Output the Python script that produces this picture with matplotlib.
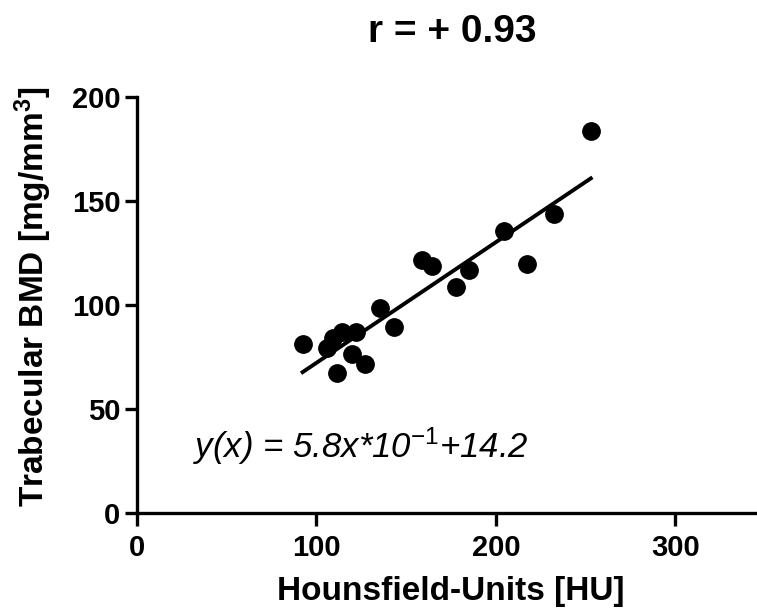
import numpy as np
import matplotlib
matplotlib.use("Agg")
import matplotlib.pyplot as plt

plt.rcParams['font.family'] = ['Liberation Sans', 'DejaVu Sans']
plt.rcParams['mathtext.fontset'] = 'custom'
plt.rcParams['mathtext.rm'] = 'Liberation Sans'
plt.rcParams['mathtext.it'] = 'Liberation Sans:italic'
plt.rcParams['mathtext.bf'] = 'Liberation Sans:bold'

hu = [92.3, 105.7, 109.4, 114.0, 122.0, 119.6, 111.6, 127.0, 135.4, 143.3,
      158.6, 164.5, 177.5, 185.1, 204.6, 217.1, 232.3, 252.9]
bmd = [81.1, 79.5, 84.0, 87.2, 86.9, 76.4, 67.5, 71.6, 98.4, 89.6,
       121.6, 118.8, 108.8, 116.8, 135.7, 119.6, 143.8, 183.8]

slope = 0.58
intercept = 14.2
r_value = 0.93

x_ticks = [0, 100, 200, 300]
y_ticks = [0, 50, 100, 150, 200]

fig = plt.figure(figsize=(7.57, 6.11), dpi=100)
ax = fig.add_axes([0.181, 0.1604, 0.8296, 0.6808])

ax.plot(hu, bmd, 'o', color='black', markersize=12.5, zorder=3)

xfit = np.array([min(hu), max(hu)])
ax.plot(xfit, slope * xfit + intercept, color='black', lw=2.8, zorder=2)

ax.set_xlim(0, 350)
ax.set_ylim(0, 200)
ax.set_xticks(x_ticks)
ax.set_yticks(y_ticks)

for s in ['top', 'right']:
    ax.spines[s].set_visible(False)
for s in ['left', 'bottom']:
    ax.spines[s].set_linewidth(2.4)

ax.tick_params(axis='both', direction='out', length=9, width=2.4,
               labelsize=21, pad=3)
ax.tick_params(axis='x', pad=6)
for lab in ax.get_xticklabels() + ax.get_yticklabels():
    lab.set_fontweight('bold')

ax.set_xlabel('Hounsfield-Units [HU]', fontsize=24, fontweight='bold', labelpad=10)
ax.set_ylabel(r'Trabecular BMD [mg/mm$^\mathbf{3}$]', fontsize=24,
              fontweight='bold')
ax.yaxis.set_label_coords(-0.132, 0.52)

fig.text(0.597, 0.947, 'r = + %.2f' % r_value, fontsize=28, fontweight='bold',
         ha='center', va='center')

ax.text(31, 32, 'y(x) = 5.8x*10$^{\\mathit{-1}}$+14.2', fontsize=25,
        style='italic', ha='left', va='center')

fig.savefig('out.png', dpi=100)
